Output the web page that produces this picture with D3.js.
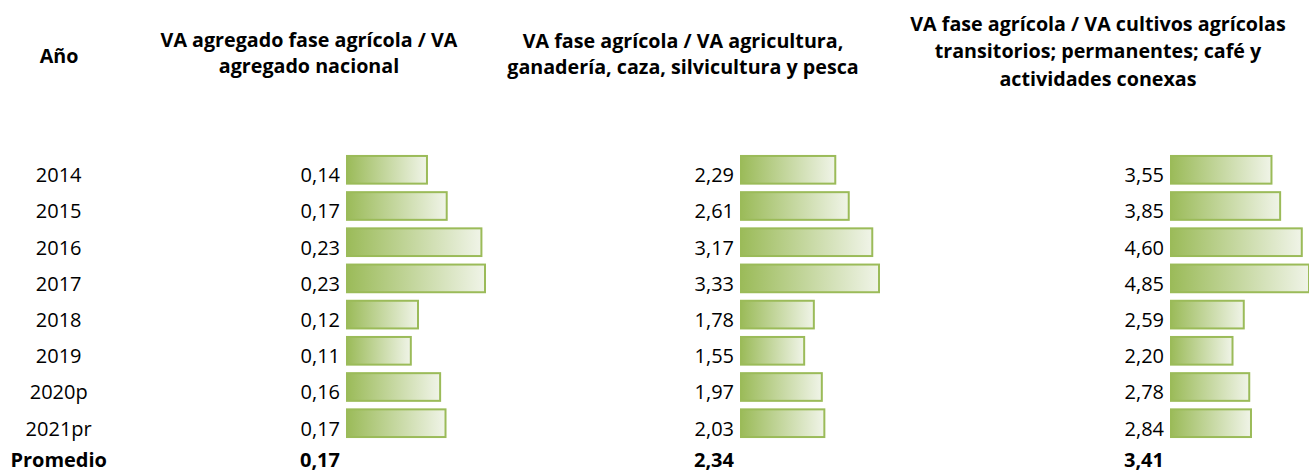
<!DOCTYPE html>
<html>
<head>
<meta charset="utf-8">
<script src="https://cdn.jsdelivr.net/npm/d3@7"></script>
<style>
  html, body { margin: 0; padding: 0; background: #fff; }
  svg { display: block; font-family: "Open Sans", "Noto Sans", sans-serif; }
</style>
</head>
<body>
<svg id="chart" width="1309" height="473"></svg>
<script>
// ---- data ----
const years = ["2014", "2015", "2016", "2017", "2018", "2019", "2020p", "2021pr"];
const ratioNacional = [0.137, 0.170, 0.228, 0.234, 0.122, 0.110, 0.159, 0.168];
const ratioAgro = [2.29, 2.61, 3.17, 3.33, 1.78, 1.55, 1.97, 2.03];
const ratioCultivos = [3.55, 3.85, 4.60, 4.85, 2.59, 2.20, 2.78, 2.84];
const promedios = [0.17, 2.34, 3.41];
const yearHeader = "Año";
const averageLabel = "Promedio";
const headers = [
  ["VA agregado fase agrícola / VA", "agregado nacional"],
  ["VA fase agrícola / VA agricultura,", "ganadería, caza, silvicultura y pesca"],
  ["VA fase agrícola / VA cultivos agrícolas", "transitorios; permanentes; café y", "actividades conexas"]
];

// ---- layout ----
const svg = d3.select("#chart");
const fmt = v => d3.format(".2f")(v).replace(".", ",");
const series = [ratioNacional, ratioAgro, ratioCultivos];
const cols = [
  { labelRight: 340, barX: 346, headCx: 309, headBase: [47, 73] },
  { labelRight: 734, barX: 740, headCx: 683, headBase: [47.5, 74] },
  { labelRight: 1164, barX: 1170, headCx: 1098, headBase: [30.7, 58.3, 86] }
];
const barMax = 140;
const bodySize = 20;
const headSize = 19.7;

const y = d3.scaleBand().domain(years).range([151.7, 441.3]).paddingInner(0.18).paddingOuter(0.09);
const baseOff = 12.3;

// gradient
const defs = svg.append("defs");
const grad = defs.append("linearGradient").attr("id", "barGrad")
  .attr("x1", "0%").attr("x2", "100%").attr("y1", "0%").attr("y2", "0%");
grad.append("stop").attr("offset", "0%").attr("stop-color", "#9bbb59");
grad.append("stop").attr("offset", "100%").attr("stop-color", "#f0f4e8");

// year header and labels
svg.append("text").attr("x", 59).attr("y", 63.3).attr("text-anchor", "middle")
  .attr("font-weight", "bold").attr("font-size", headSize).text(yearHeader);

svg.append("g").selectAll("text").data(years).join("text")
  .attr("x", 58.7).attr("y", d => y(d) + y.bandwidth() / 2 + baseOff)
  .attr("text-anchor", "middle").attr("font-size", bodySize).attr("fill", "#000")
  .text(d => d);

svg.append("text").attr("x", 58.7).attr("y", 467).attr("text-anchor", "middle")
  .attr("font-weight", "bold").attr("font-size", bodySize).text(averageLabel);

cols.forEach((c, i) => {
  const vals = series[i];
  const x = d3.scaleLinear().domain([0, d3.max(vals)]).range([0, barMax]);
  const g = svg.append("g");

  // header
  g.append("g").selectAll("text").data(headers[i]).join("text")
    .attr("x", c.headCx).attr("y", (d, k) => c.headBase[k])
    .attr("text-anchor", "middle").attr("font-weight", "bold").attr("font-size", headSize)
    .text(d => d);

  // value labels
  g.append("g").selectAll("text").data(vals).join("text")
    .attr("x", c.labelRight).attr("y", (d, k) => y(years[k]) + y.bandwidth() / 2 + baseOff)
    .attr("text-anchor", "end").attr("font-size", bodySize).text(d => fmt(d));

  // bars
  g.append("g").selectAll("rect").data(vals).join("rect")
    .attr("x", c.barX + 1)
    .attr("y", (d, k) => y(years[k]) + 1)
    .attr("width", d => Math.max(0, x(d) - 2))
    .attr("height", y.bandwidth() - 2)
    .attr("fill", "url(#barGrad)")
    .attr("stroke", "#9bbb59").attr("stroke-width", 2);

  // average
  g.append("text").attr("x", c.labelRight).attr("y", 467)
    .attr("text-anchor", "end").attr("font-weight", "bold").attr("font-size", bodySize)
    .text(fmt(promedios[i]));
});
</script>
</body>
</html>
